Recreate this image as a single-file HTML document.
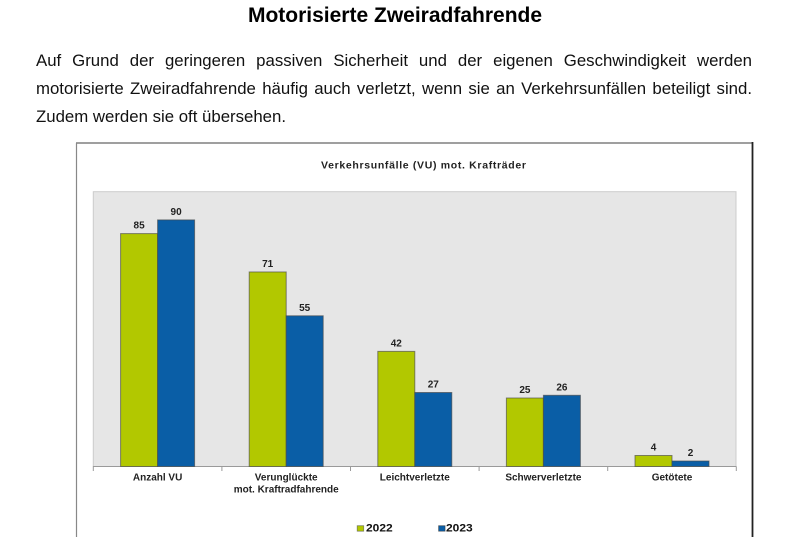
<!DOCTYPE html>
<html>
<head>
<meta charset="utf-8">
<style>
  html,body{margin:0;padding:0;background:#fff;}
  body{width:795px;height:537px;position:relative;overflow:hidden;font-family:"Liberation Sans",Arial,sans-serif;}
  .ln{position:absolute;left:36px;width:716px;font-size:16.8px;line-height:28px;height:28px;color:#111;white-space:nowrap;}
  .j{text-align:justify;text-align-last:justify;white-space:normal;}
  svg{position:absolute;left:0;top:0;}
</style>
</head>
<body>
<div class="ln j" style="top:47px;">Auf Grund der geringeren passiven Sicherheit und der eigenen Geschwindigkeit werden</div>
<div class="ln j" style="top:75px;">motorisierte Zweiradfahrende häufig auch verletzt, wenn sie an Verkehrsunfällen beteiligt sind.</div>
<div class="ln" style="top:103px;">Zudem werden sie oft übersehen.</div>

<svg width="795" height="537" viewBox="0 0 795 537" xmlns="http://www.w3.org/2000/svg" font-family="Liberation Sans, Arial, sans-serif">
  <!-- page title -->
  <text x="395" y="22" font-size="21" font-weight="bold" text-anchor="middle" fill="#000">Motorisierte Zweiradfahrende</text>

  <!-- chart frame -->
  <line x1="76" y1="143" x2="753" y2="143" stroke="#666" stroke-width="1.3"/>
  <line x1="76.5" y1="143" x2="76.5" y2="537" stroke="#888" stroke-width="1.2"/>
  <line x1="752.5" y1="142" x2="752.5" y2="537" stroke="#222" stroke-width="1.8"/>

  <!-- chart title -->
  <text x="321" y="168.5" font-size="10.5" font-weight="bold" fill="#222" textLength="205" lengthAdjust="spacing">Verkehrsunfälle (VU) mot. Krafträder</text>

  <!-- plot area -->
  <rect x="93.3" y="191.7" width="642.7" height="274.8" fill="#e6e6e6" stroke="#cccccc" stroke-width="1"/>

  <!-- axis -->
  <line x1="93" y1="466.5" x2="736.5" y2="466.5" stroke="#9a9a9a" stroke-width="1"/>
  <g stroke="#9a9a9a" stroke-width="1">
    <line x1="93.3" y1="466.5" x2="93.3" y2="471"/>
    <line x1="221.9" y1="466.5" x2="221.9" y2="471"/>
    <line x1="350.5" y1="466.5" x2="350.5" y2="471"/>
    <line x1="479.1" y1="466.5" x2="479.1" y2="471"/>
    <line x1="607.7" y1="466.5" x2="607.7" y2="471"/>
    <line x1="736.3" y1="466.5" x2="736.3" y2="471"/>
  </g>

  <!-- bars -->
  <g stroke="#4a4a4a" stroke-opacity="0.65" stroke-width="1">
    <rect x="120.6" y="233.6" width="37" height="232.9" fill="#b2c800"/>
    <rect x="157.6" y="219.9" width="37" height="246.6" fill="#0a5ea6"/>
    <rect x="249.2" y="271.96" width="37" height="194.54" fill="#b2c800"/>
    <rect x="286.2" y="315.8" width="37" height="150.7" fill="#0a5ea6"/>
    <rect x="377.8" y="351.4" width="37" height="115.1" fill="#b2c800"/>
    <rect x="414.8" y="392.5" width="37" height="74" fill="#0a5ea6"/>
    <rect x="506.4" y="398" width="37" height="68.5" fill="#b2c800"/>
    <rect x="543.4" y="395.3" width="37" height="71.2" fill="#0a5ea6"/>
    <rect x="635" y="455.5" width="37" height="11" fill="#b2c800"/>
    <rect x="672" y="461" width="37" height="5.5" fill="#0a5ea6"/>
  </g>

  <!-- value labels -->
  <g font-size="10" font-weight="bold" fill="#222" text-anchor="middle">
    <text x="139.1" y="228.6">85</text>
    <text x="176.1" y="214.9">90</text>
    <text x="267.7" y="267">71</text>
    <text x="304.7" y="310.8">55</text>
    <text x="396.3" y="346.4">42</text>
    <text x="433.3" y="387.5">27</text>
    <text x="524.9" y="393">25</text>
    <text x="561.9" y="390.3">26</text>
    <text x="653.5" y="450.5">4</text>
    <text x="690.5" y="456">2</text>
  </g>

  <!-- category labels -->
  <g font-size="10" font-weight="bold" fill="#222" text-anchor="middle">
    <text x="157.6" y="480.7">Anzahl VU</text>
    <text x="286.2" y="480.7">Verunglückte</text>
    <text x="286.2" y="492.7">mot. Kraftradfahrende</text>
    <text x="414.8" y="480.7">Leichtverletzte</text>
    <text x="543.4" y="480.7">Schwerverletzte</text>
    <text x="672" y="480.7">Getötete</text>
  </g>

  <!-- legend -->
  <rect x="357.2" y="525.7" width="6.5" height="5.5" fill="#b2c800" stroke="#4a4a4a" stroke-opacity="0.6" stroke-width="0.8"/>
  <text x="366" y="531.7" font-size="11" font-weight="bold" fill="#111" textLength="26.7" lengthAdjust="spacingAndGlyphs">2022</text>
  <rect x="438.6" y="525.7" width="6.5" height="5.5" fill="#0a5ea6" stroke="#333" stroke-opacity="0.6" stroke-width="0.8"/>
  <text x="446" y="531.7" font-size="11" font-weight="bold" fill="#111" textLength="26.7" lengthAdjust="spacingAndGlyphs">2023</text>
</svg>
</body>
</html>
